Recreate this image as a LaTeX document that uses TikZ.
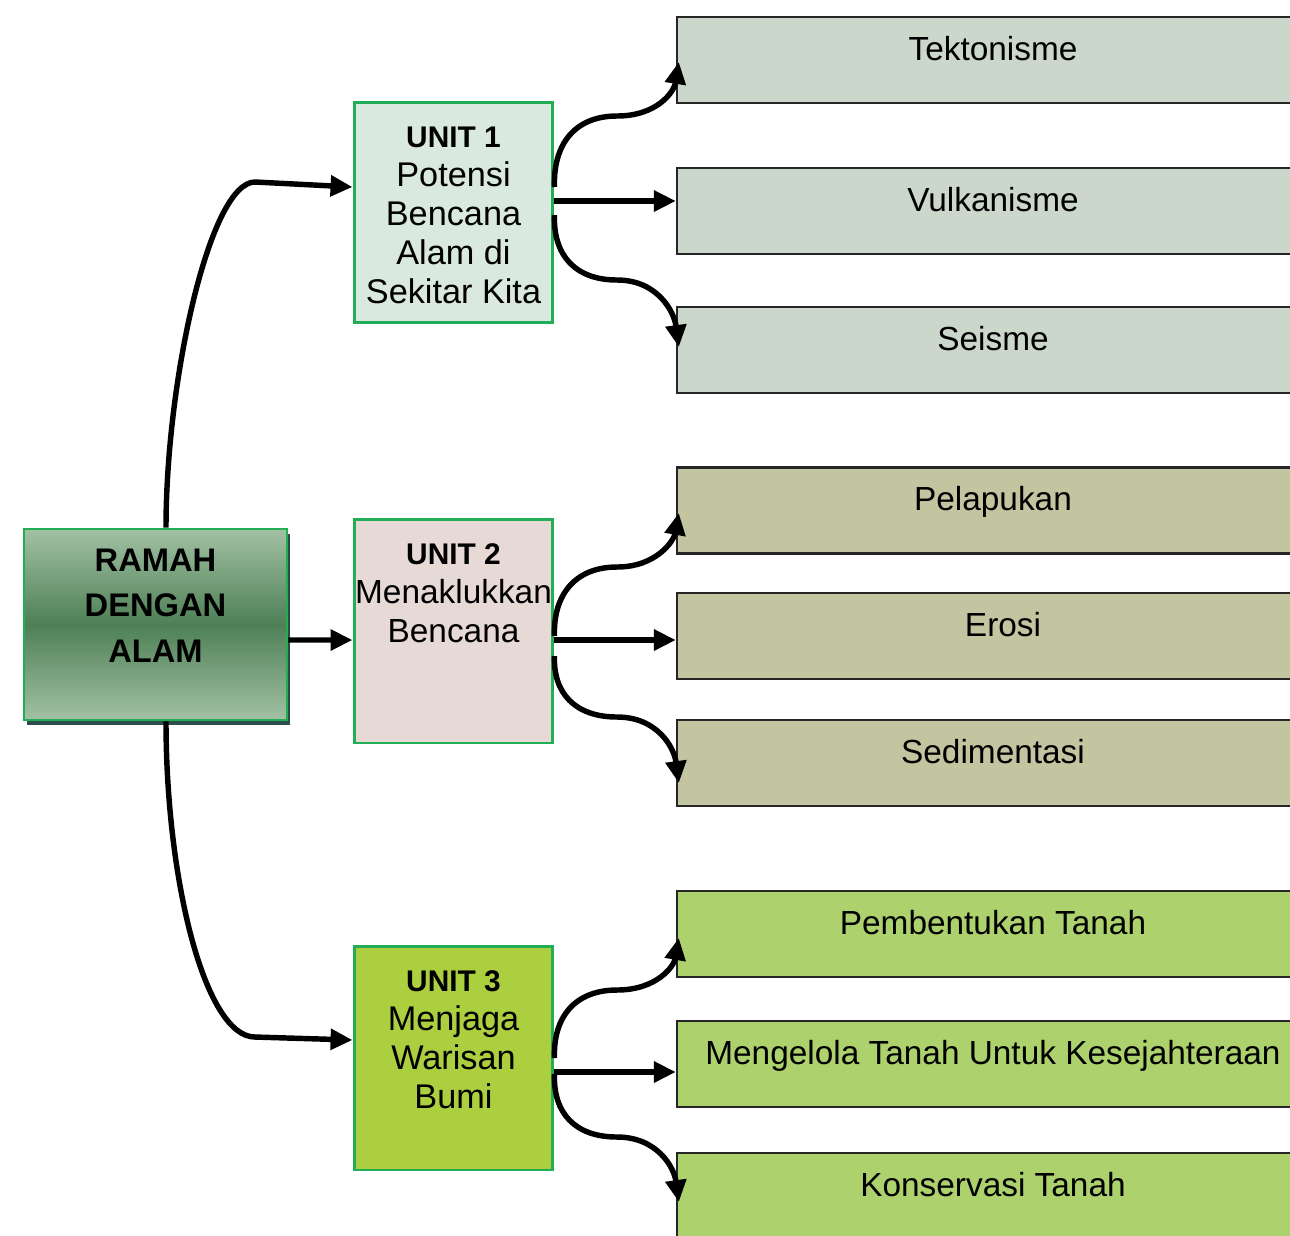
\documentclass[tikz,border=0pt]{standalone}
\usepackage{fontspec}
\setmainfont{Liberation Sans}
\usetikzlibrary{arrows.meta,calc,shadows}
\definecolor{gborder}{HTML}{22AD57}
\definecolor{bdark}{HTML}{262626}
\definecolor{uonefill}{HTML}{DAE9DF}
\definecolor{utwofill}{HTML}{E7DAD6}
\definecolor{uthreefill}{HTML}{ABCF3E}
\definecolor{gone}{HTML}{CBD7CB}
\definecolor{gtwo}{HTML}{C3C4A0}
\definecolor{gthree}{HTML}{ADD16C}
\definecolor{mtop}{HTML}{A2C1A3}
\definecolor{mmid}{HTML}{4E8056}
\definecolor{mshadow}{HTML}{2C4E4A}
\begin{document}
\begin{tikzpicture}[x=0.02cm,y=-0.02cm,
  mainbox/.style={draw=gborder, line width=1.5pt, minimum width=5.26cm, minimum height=3.82cm,
    inner sep=0pt, top color=mtop, bottom color=mtop, middle color=mmid,
    drop shadow={shadow xshift=0.06cm, shadow yshift=-0.1cm, fill=mshadow, opacity=1}},
  maintext/.style={align=center, inner sep=0pt, font=\bfseries\fontsize{18.6}{26}\selectfont},
  unitbox/.style={draw=gborder, line width=1.7pt, minimum width=3.98cm, inner sep=0pt},
  unittext/.style={anchor=north, align=center, inner sep=0pt, font=\fontsize{19.5}{22.2}\selectfont},
  rbox/.style={draw=bdark, line width=1.4pt, minimum width=12.64cm, minimum height=1.72cm,
    inner xsep=0pt, inner ysep=0pt, text height=0.86cm, text depth=0.86cm,
    font=\fontsize{19}{22}\selectfont},
  conn/.style={line width=3.1pt, -{Triangle[length=12.5pt,width=11.5pt]}}
]
\useasboundingbox (0,0) rectangle (1290,1235);
\fill[white] (0,0) rectangle (1290,1235);
\clip (0,0) rectangle (1290,1235);

% main box
\node[mainbox] (m) at (155.5,624.5) {};
\node[maintext] (mt) at ($(m.center)+(0,-19)$) {RAMAH\\DENGAN\\ALAM};

% unit boxes
\node[unitbox, fill=uonefill, minimum height=4.42cm] (u1) at (453.5,212.5) {};
\node[unittext] (u1t) at ($(u1.north)+(0,26)$) {{\bfseries\fontsize{17}{22.2}\selectfont UNIT 1}\\Potensi\\Bencana\\Alam di\\Sekitar Kita};
\node[unitbox, fill=utwofill, minimum height=4.48cm] (u2) at (453.5,631) {};
\node[unittext, font=\fontsize{19}{22.2}\selectfont] (u2t) at ($(u2.north)+(0,26)$) {{\bfseries\fontsize{17}{22.2}\selectfont UNIT 2}\\Menaklukkan\\Bencana};
\node[unitbox, fill=uthreefill, minimum height=4.48cm] (u3) at (453.5,1058) {};
\node[unittext] (u3t) at ($(u3.north)+(0,26)$) {{\bfseries\fontsize{17}{22.2}\selectfont UNIT 3}\\Menjaga\\Warisan\\Bumi};

% right boxes
\node[rbox, fill=gone] (r11) at (993,60) {Tektonisme};
\node[rbox, fill=gone] (r12) at (993,211) {Vulkanisme};
\node[rbox, fill=gone] (r13) at (993,350) {Seisme};
\node[rbox, fill=gtwo] (r21) at (993,510.5) {Pelapukan};
\node[rbox, fill=gtwo] (r22) at (993,636) {\hspace*{0.4cm}Erosi};
\node[rbox, fill=gtwo] (r23) at (993,763) {Sedimentasi};
\node[rbox, fill=gthree] (r31) at (993,934) {Pembentukan Tanah};
\node[rbox, fill=gthree] (r32) at (993,1064) {Mengelola Tanah Untuk Kesejahteraan};
\node[rbox, fill=gthree] (r33) at (993,1196) {Konservasi Tanah};

% main to units
\draw[conn] ($(m.north)+(10.5,0)$) .. controls (166,380) and (210,182) .. (255,182) -- ($(u1.west)+(0,-25.5)$);
\draw[conn] ($(m.east)+(0,15.5)$) -- ($(u2.west)+(0,9)$);
\draw[conn] ($(m.south)+(10.5,0)$) .. controls (166,880) and (205,1037) .. (255,1037) -- ($(u3.west)+(0,-18)$);

% unit 1 branches
\draw[conn] ($(u1.east)+(0,-25.5)$) .. controls (553,144) and (575,116) .. (617,116) .. controls (657,116) and (674,92) .. ($(r11.west)+(3,2)$);
\draw[conn] ($(u1.east)+(0,-11.5)$) -- ($(r12.west)+(0,-10)$);
\draw[conn] ($(u1.east)+(0,2.5)$) .. controls (553,255) and (575,280) .. (617,280) .. controls (657,280) and (674,311) .. ($(r13.west)+(3,-3)$);

% unit 2 branches
\draw[conn] ($(u2.east)+(0,5)$) .. controls (553,595) and (575,567) .. (617,567) .. controls (657,567) and (674,540) .. ($(r21.west)+(3,2.5)$);
\draw[conn] ($(u2.east)+(0,9)$) -- ($(r22.west)+(0,4)$);
\draw[conn] ($(u2.east)+(0,25)$) .. controls (553,693) and (575,717) .. (617,717) .. controls (657,717) and (674,747) .. ($(r23.west)+(3,20)$);

% unit 3 branches
\draw[conn] ($(u3.east)+(0,0)$) .. controls (553,1017) and (575,990) .. (617,990) .. controls (657,990) and (674,966) .. ($(r31.west)+(3,4)$);
\draw[conn] ($(u3.east)+(0,14)$) -- ($(r32.west)+(0,8)$);
\draw[conn] ($(u3.east)+(0,16)$) .. controls (553,1113) and (575,1137) .. (617,1137) .. controls (657,1137) and (674,1167) .. ($(r33.west)+(3,6)$);
\end{tikzpicture}
\end{document}
